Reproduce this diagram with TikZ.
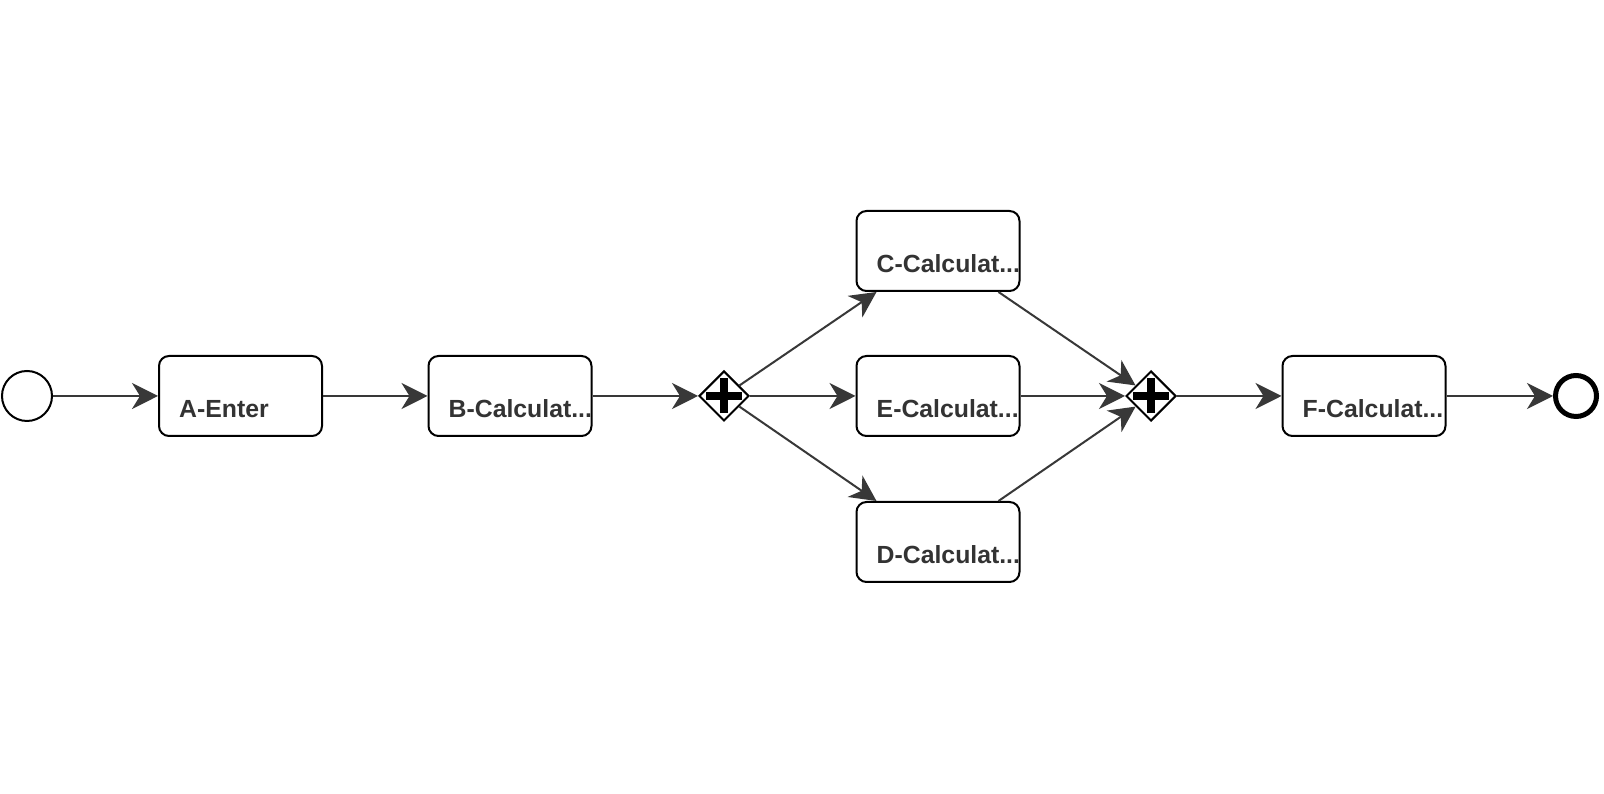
\documentclass[tikz,border=0pt]{standalone}
\usepackage{fontspec}
\setmainfont{Liberation Sans}
\usetikzlibrary{shapes.geometric,arrows.meta}
\definecolor{ink}{HTML}{333333}
\definecolor{flow}{HTML}{383838}

\begin{document}
\begin{tikzpicture}[x=1pt,y=1pt,
  task/.style={draw=black, line width=2pt, rounded corners=10pt, fill=white,
    minimum width=163pt, minimum height=80pt, inner sep=0pt},
  tasklabel/.style={anchor=base west, inner sep=0pt, text=ink,
    font=\bfseries\fontsize{24.8}{29}\selectfont},
  flowline/.style={draw=flow, line width=2pt,
    -{Stealth[length=26pt,width=26pt,inset=8pt]}},
  startevent/.style={circle, draw=black, line width=2pt, fill=white,
    minimum size=50pt, inner sep=0pt},
  endevent/.style={circle, draw=black, line width=5pt, fill=white,
    minimum size=41pt, inner sep=0pt},
  gateway/.style={diamond, aspect=1, draw=black, line width=2pt, fill=white,
    minimum width=50pt, minimum height=50pt, inner sep=0pt,
    path picture={
      \fill[black] ([xshift=-18pt,yshift=-3.8pt]path picture bounding box.center)
        rectangle ([xshift=18pt,yshift=3.8pt]path picture bounding box.center);
      \fill[black] ([xshift=-3.8pt,yshift=-17.5pt]path picture bounding box.center)
        rectangle ([xshift=3.8pt,yshift=17.5pt]path picture bounding box.center);
    }},
]
% canvas
\fill[white] (0,0) rectangle (1604,794);
\useasboundingbox (0,0) rectangle (1604,794);

% events, tasks and gateways
\node[startevent] (start) at (27,398) {};
\node[task] (A) at (240.5,398) {};
\node[task] (B) at (510,398) {};
\node[gateway] (g1) at (724,398) {};
\node[task] (C) at (938,543) {};
\node[task] (E) at (938,398) {};
\node[task] (D) at (938,252) {};
\node[gateway] (g2) at (1151,398) {};
\node[task] (F) at (1364,398) {};
\node[endevent] (stop) at (1576,398) {};

% task labels
\node[tasklabel] (lA) at ([xshift=21pt,yshift=-63pt]A.north west) {A-Enter};
\node[tasklabel] (lB) at ([xshift=21pt,yshift=-63pt]B.north west) {B-Calculat...};
\node[tasklabel] (lC) at ([xshift=21pt,yshift=-63pt]C.north west) {C-Calculat...};
\node[tasklabel] (lE) at ([xshift=21pt,yshift=-63pt]E.north west) {E-Calculat...};
\node[tasklabel] (lD) at ([xshift=21pt,yshift=-63pt]D.north west) {D-Calculat...};
\node[tasklabel] (lF) at ([xshift=21pt,yshift=-63pt]F.north west) {F-Calculat...};

% sequence flows
\draw[flowline] (start) -- (A);
\draw[flowline] (A) -- (B);
\draw[flowline] (B) -- (g1);
\draw[flowline] (g1) -- ([xshift=21pt]C.south west);
\draw[flowline] (g1) -- (E);
\draw[flowline] (g1) -- ([xshift=21pt]D.north west);
\draw[flowline] ([xshift=-22pt]C.south east) -- (g2);
\draw[flowline] (E) -- (g2);
\draw[flowline] ([xshift=-22pt]D.north east) -- (g2);
\draw[flowline] (g2) -- (F);
\draw[flowline] (F) -- (stop);
\end{tikzpicture}
\end{document}
